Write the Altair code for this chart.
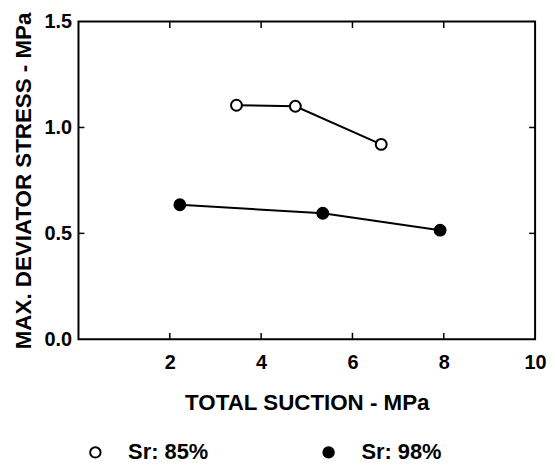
import altair as alt
import pandas as pd

# ---- data ----
suction_85 = [3.46, 4.75, 6.63]
stress_85 = [1.105, 1.10, 0.92]
suction_98 = [2.22, 5.35, 7.92]
stress_98 = [0.635, 0.595, 0.515]
series_labels = ["Sr: 85%", "Sr: 98%"]
x_label_values = [2, 4, 6, 8, 10]
y_label_values = [0.0, 0.5, 1.0, 1.5]
x_tick_values = [2, 4, 6, 8]
y_tick_values = [0.5, 1.0]

FONT = "Liberation Sans"

df = pd.DataFrame({
    "suction": suction_85 + suction_98,
    "stress": stress_85 + stress_98,
    "series": [series_labels[0]] * len(suction_85) + [series_labels[1]] * len(suction_98),
})

xscale = alt.Scale(domain=[0, 10], nice=False, zero=False)
yscale = alt.Scale(domain=[0, 1.5], nice=False, zero=False)

x_axis = alt.Axis(values=x_label_values, format="d", title="TOTAL SUCTION - MPa",
                  ticks=False, domain=False, grid=False, labelFlush=False,
                  labelPadding=13, titlePadding=20)
y_axis = alt.Axis(values=y_label_values, format=".1f", title="MAX. DEVIATOR STRESS - MPa",
                  ticks=False, domain=False, grid=False, labelFlush=False,
                  labelPadding=7, titlePadding=9)

lines = alt.Chart(df).mark_line(color="black", strokeWidth=2).encode(
    x=alt.X("suction:Q", scale=xscale, axis=x_axis),
    y=alt.Y("stress:Q", scale=yscale, axis=y_axis),
    detail="series:N",
)

points = alt.Chart(df).mark_point(
    filled=True, size=120, stroke="black", strokeWidth=2, opacity=1
).encode(
    x=alt.X("suction:Q", scale=xscale, axis=x_axis),
    y=alt.Y("stress:Q", scale=yscale, axis=y_axis),
    fill=alt.Fill(
        "series:N",
        scale=alt.Scale(domain=series_labels, range=["white", "black"]),
        legend=alt.Legend(
            title=None, orient="none", legendX=6, legendY=423, direction="horizontal",
            symbolType="circle", symbolSize=110, symbolStrokeColor="black",
            symbolStrokeWidth=2, labelOffset=22, columnPadding=110,
            labelFont=FONT, labelFontWeight="bold", labelFontSize=22, labelColor="black",
            labelLimit=300, padding=0,
        ),
    ),
)

# inward tick marks on all four sides
tick_len_y = 0.03
tick_len_x = 0.13
bottom_ticks = pd.DataFrame({"suction": x_tick_values, "a": [0.0] * 4, "b": [tick_len_y] * 4})
top_ticks = pd.DataFrame({"suction": x_tick_values, "a": [1.5] * 4, "b": [1.5 - tick_len_y] * 4})
left_ticks = pd.DataFrame({"stress": y_tick_values, "a": [0.0] * 2, "b": [tick_len_x] * 2})
right_ticks = pd.DataFrame({"stress": y_tick_values, "a": [10.0] * 2, "b": [10.0 - tick_len_x] * 2})

def xtick_layer(d):
    return alt.Chart(d).mark_rule(color="black", strokeWidth=1.5).encode(
        x=alt.X("suction:Q", scale=xscale, axis=x_axis),
        y=alt.Y("a:Q", scale=yscale, axis=y_axis),
        y2="b:Q",
    )

def ytick_layer(d):
    return alt.Chart(d).mark_rule(color="black", strokeWidth=1.5).encode(
        y=alt.Y("stress:Q", scale=yscale, axis=y_axis),
        x=alt.X("a:Q", scale=xscale, axis=x_axis),
        x2="b:Q",
    )

chart = alt.layer(
    lines, points,
    xtick_layer(bottom_ticks), xtick_layer(top_ticks),
    ytick_layer(left_ticks), ytick_layer(right_ticks),
).properties(
    width=460, height=320,
    autosize=alt.AutoSizeParams(type="none"),
    padding={"left": 71, "top": 12, "right": 12, "bottom": 126},
).configure_view(
    stroke="black", strokeWidth=2
).configure_axis(
    labelFont=FONT, labelFontWeight="bold", labelFontSize=20, labelColor="black",
    titleFont=FONT, titleFontWeight="bold", titleFontSize=22.5, titleColor="black",
)

chart.save("out.html", embed_options={"renderer": "svg", "actions": False})
